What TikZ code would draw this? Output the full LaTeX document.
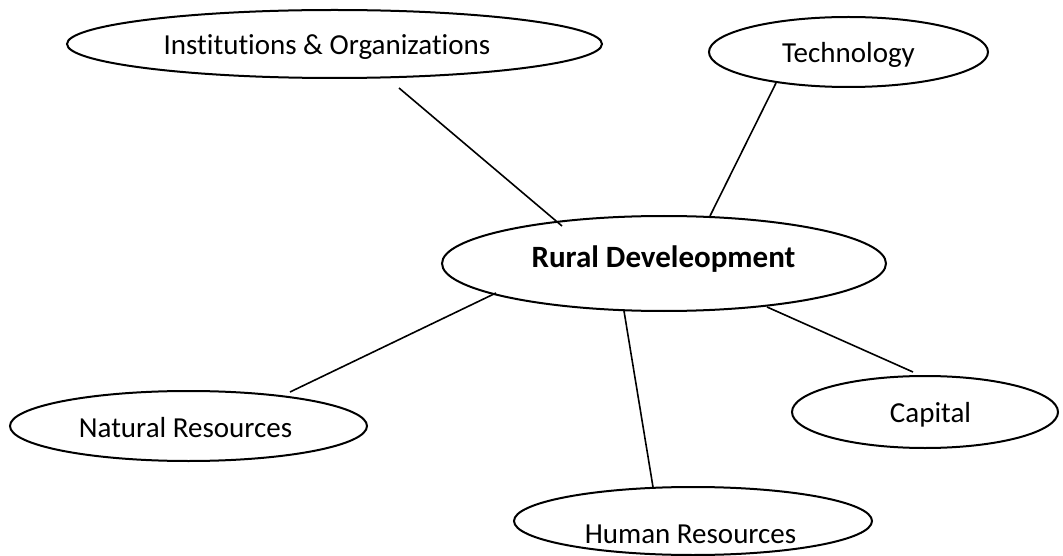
\documentclass[tikz,border=0pt]{standalone}
\usepackage{fontspec}
\setmainfont{Carlito}[RawFeature={-liga}]
\usetikzlibrary{shapes.geometric}
\begin{document}
\begin{tikzpicture}[x=1pt,y=-1pt,
  bubble/.style={draw=black, line width=2pt, ellipse, inner sep=0pt},
  caption/.style={anchor=base, inner sep=0pt, font=\fontsize{29}{34}\selectfont},
  link/.style={draw=black, line width=1.6pt}]
\useasboundingbox (0,0) rectangle (1063,556);

% topic ellipses
\node[bubble, minimum width=535pt, minimum height=68pt] (inst) at (334.5,44) {};
\node[bubble, minimum width=279pt, minimum height=70pt] (tech) at (848.5,52) {};
\node[bubble, minimum width=444pt, minimum height=95pt] (rural) at (664,263.5) {};
\node[bubble, minimum width=357pt, minimum height=70pt] (natural) at (188.5,426) {};
\node[bubble, minimum width=266pt, minimum height=72pt] (capital) at (925,412) {};
\node[bubble, minimum width=358pt, minimum height=68pt] (human) at (693,521) {};

% their captions, placed on the baseline
\node[caption] (instT) at (327,55) {Institutions \& Organizations};
\node[caption] (techT) at (848.5,63) {Technology};
\node[caption, font=\fontsize{31}{36}\selectfont\bfseries] (ruralT) at (663.5,268) {Rural Develeopment};
\node[caption] (naturalT) at (185.5,437) {Natural Resources};
\node[caption] (capitalT) at (930.5,422) {Capital};
\node[caption] (humanT) at (690.5,543) {Human Resources};

% free ends of the spokes
\coordinate (i1) at (399,88);   \coordinate (i2) at (562,226);
\coordinate (t1) at (776,83);   \coordinate (t2) at (710,216);
\coordinate (n1) at (496,293);  \coordinate (n2) at (290,392);
\coordinate (h1) at (624,311);  \coordinate (h2) at (653,487);
\coordinate (c1) at (767,307);  \coordinate (c2) at (913,372);

\draw[link] (i1) -- (i2);
\draw[link] (t1) -- (t2);
\draw[link] (n1) -- (n2);
\draw[link] (h1) -- (h2);
\draw[link] (c1) -- (c2);
\end{tikzpicture}
\end{document}
